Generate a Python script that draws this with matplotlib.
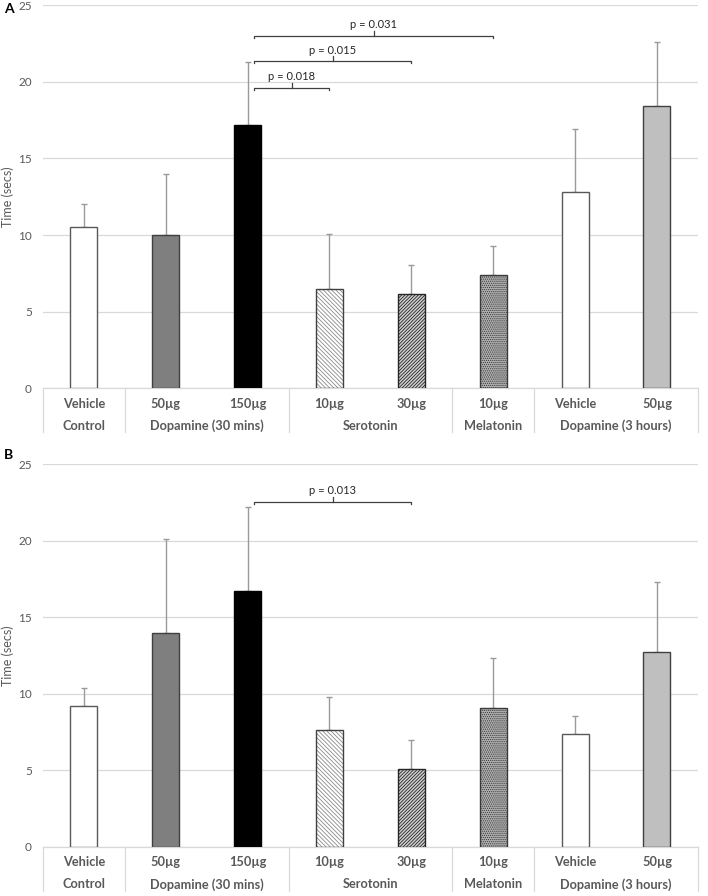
import numpy as np
import matplotlib
matplotlib.use("Agg")
import matplotlib.pyplot as plt

plt.rcParams['font.family'] = ['Lato', 'DejaVu Sans']
plt.rcParams['hatch.linewidth'] = 0.6

# sub-category labels and groups (two level axis)
sub_labels = ["Vehicle", "50µg", "150µg", "10µg", "30µg", "10µg", "Vehicle", "50µg"]
groups = ["Control", "Dopamine (30 mins)", "Serotonin", "Melatonin", "Dopamine (3 hours)"]
group_sizes = [1, 2, 2, 1, 2]

# panel A
means_A = [10.5, 10.0, 17.2, 6.5, 6.15, 7.4, 12.8, 18.4]
err_A = [1.5, 4.0, 4.1, 3.55, 1.9, 1.9, 4.1, 4.2]
# (from bar, to bar, bracket height, label)
sig_A = [(2, 3, 19.6, "p = 0.018"), (2, 4, 21.35, "p = 0.015"), (2, 5, 23.0, "p = 0.031")]

# panel B
means_B = [9.2, 14.0, 16.7, 7.65, 5.05, 9.05, 7.4, 12.75]
err_B = [1.15, 6.1, 5.5, 2.15, 1.95, 3.3, 1.15, 4.55]
sig_B = [(2, 4, 22.55, "p = 0.013")]

faces = ["white", "#7f7f7f", "black", "white", "#d0d0d0", "#b0b0b0", "white", "#bfbfbf"]
hatches = [None, None, None, "\\\\\\\\\\\\\\\\", "//////////", "........", None, None]
hatch_c = [None, None, None, "#8a8a8a", "#262626", "#3a3a3a", None, None]
edges = ["#595959", "#404040", "black", "#404040", "#262626", "#3a3a3a", "#595959", "#404040"]

grid_c = "#d9d9d9"
text_c = "#595959"


def draw_panel(ax, means, errs, sigs):
    x = np.arange(len(means))
    # hatch layer first (hatch takes its colour from the edge)
    for i in range(len(means)):
        if hatches[i]:
            ax.bar(x[i], means[i], width=0.33, color=faces[i], edgecolor=hatch_c[i],
                   hatch=hatches[i], linewidth=0, zorder=3)
    ax.bar(x, means, width=0.33,
           color=[f if h is None else "none" for f, h in zip(faces, hatches)],
           edgecolor=edges, linewidth=1.0, zorder=3)
    ax.errorbar(x, means, yerr=[np.zeros(len(errs)), errs], fmt="none",
                ecolor="#9a9a9a", elinewidth=1.0, capsize=2.2, capthick=1.0, zorder=2)

    ax.set_xlim(-0.5, len(means) - 0.5)
    ax.set_ylim(0, 25)
    ax.set_yticks([0, 5, 10, 15, 20, 25])
    ax.yaxis.grid(True, color=grid_c, linewidth=0.9, zorder=0)
    ax.set_axisbelow(True)
    for s in ["top", "right", "left"]:
        ax.spines[s].set_visible(False)
    ax.spines["bottom"].set_color(grid_c)
    ax.spines["bottom"].set_linewidth(0.9)
    ax.tick_params(axis="y", length=0, pad=8, labelsize=8.5, labelcolor=text_c)
    ax.tick_params(axis="x", length=0)
    ax.set_xticks([])
    ax.set_ylabel("Time (secs)", fontsize=9, color=text_c)
    ax.yaxis.set_label_coords(-0.045, 0.5)

    # two-level category labels
    trans = ax.get_xaxis_transform()
    for i, lab in enumerate(sub_labels):
        ax.text(i, -0.04, lab, transform=trans, ha="center", va="center",
                fontsize=9.2, fontweight="bold", color=text_c)
    bounds = np.concatenate([[0], np.cumsum(group_sizes)]) - 0.5
    for k, g in enumerate(groups):
        c = (bounds[k] + bounds[k + 1]) / 2
        ax.text(c, -0.098, g, transform=trans, ha="center", va="center",
                fontsize=9.2, fontweight="bold", color=text_c)
    for bx in bounds:
        ax.plot([bx, bx], [0, -0.115], transform=trans, color=grid_c,
                linewidth=0.9, clip_on=False)

    # significance brackets
    for i, j, y, lab in sigs:
        x0, x1 = i + 0.08, j
        ax.plot([x0, x0, x1, x1], [y - 0.15, y, y, y - 0.15], color="#404040",
                linewidth=0.9, zorder=4)
        xm = (x0 + x1) / 2
        ax.plot([xm, xm], [y, y + 0.3], color="#404040", linewidth=0.9, zorder=4)
        ax.text(xm, y + 0.35, lab, ha="center", va="bottom", fontsize=8, color="#262626")


fig = plt.figure(figsize=(7.08, 8.96), dpi=100)
axA = fig.add_axes([0.0607, 0.5666, 0.925, 0.4278])
axB = fig.add_axes([0.0607, 0.0550, 0.925, 0.4268])
draw_panel(axA, means_A, err_A, sig_A)
draw_panel(axB, means_B, err_B, sig_B)
fig.text(0.006, 1 - 9 / 896, "A", ha="left", va="center", fontsize=10, fontweight="bold")
fig.text(0.006, 1 - 455 / 896, "B", ha="left", va="center", fontsize=10, fontweight="bold")

fig.savefig("out.png", dpi=100)
